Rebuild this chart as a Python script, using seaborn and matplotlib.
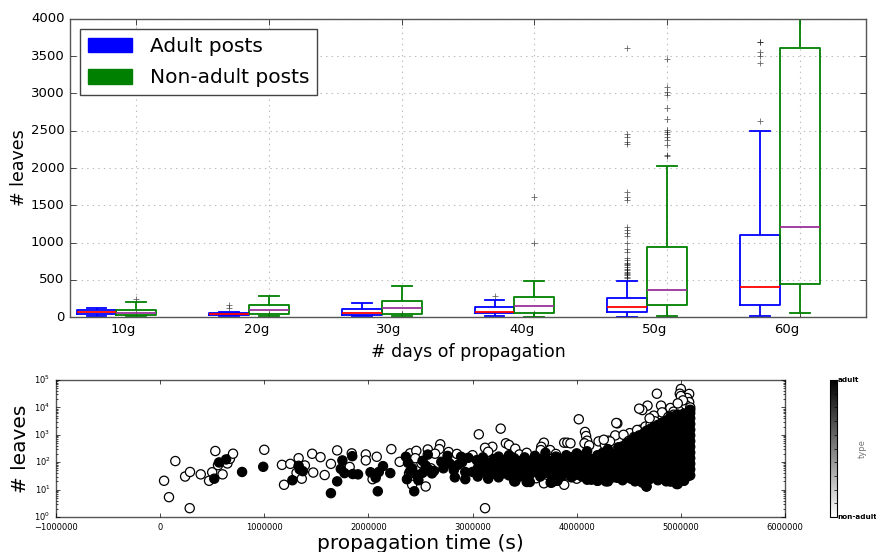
import numpy as np
import pandas as pd
import matplotlib
matplotlib.use("Agg")
import matplotlib.pyplot as plt
import seaborn as sns
from matplotlib.patches import Patch
from matplotlib.ticker import MultipleLocator, FixedLocator
from matplotlib.cm import ScalarMappable
from matplotlib.colors import Normalize

# ---------------- top panel: box plots ----------------
categories = ["10g", "20g", "30g", "40g", "50g", "60g"]
# five-number summaries: whisker low, Q1, median, Q3, whisker high
adult_box = [
    [20, 35, 65, 95, 120],
    [9, 25, 44, 60, 72],
    [9, 28, 54, 105, 188],
    [13, 50, 72, 130, 228],
    [5, 67, 138, 251, 487],
    [13, 161, 407, 1105, 2496],
]
nonadult_box = [
    [9, 31, 54, 89, 196],
    [17, 44, 89, 161, 282],
    [17, 44, 121, 210, 420],
    [0, 58, 148, 264, 487],
    [13, 161, 362, 944, 2026],
    [58, 443, 1212, 3606, 4600],
]
adult_outliers = [
    [],
    [121, 165],
    [],
    [282],
    [520, 541, 560, 573, 590, 608, 625, 644, 670, 697, 715, 730, 765, 790,
     877, 908, 997, 1087, 1127, 1162, 1207, 1565, 1610, 1677, 2326, 2348,
     2420, 2455, 3605],
    [2635, 3405, 3503, 3557, 3686, 3695],
]
nonadult_outliers = [
    [246],
    [],
    [],
    [989, 1615],
    [2155, 2174, 2308, 2370, 2415, 2460, 2483, 2505, 2653, 2800, 2979,
     3024, 3082, 3462],
    [],
]

# ---------------- bottom panel: scatter ----------------
nonadult_points = [
    (0.038e6, 21), (0.085e6, 5.3), (0.146e6, 110), (0.24e6, 30), (0.287e6, 44),
    (0.284e6, 2.1), (0.39e6, 36), (0.5e6, 43), (0.47e6, 21), (0.53e6, 256),
    (0.6e6, 36), (0.556e6, 78), (0.646e6, 90), (0.67e6, 133), (0.70e6, 204),
    (1.0e6, 284), (1.17e6, 80), (1.25e6, 87), (1.33e6, 140), (1.39e6, 76),
    (1.31e6, 41), (1.36e6, 25), (1.19e6, 15), (1.46e6, 203), (1.47e6, 42),
    (1.54e6, 153), (1.58e6, 34), (1.64e6, 87), (1.70e6, 270), (1.82e6, 67),
    (1.84e6, 210), (1.975e6, 192), (1.975e6, 116), (2.08e6, 158), (2.04e6, 24),
    (2.22e6, 300), (2.30e6, 103), (2.40e6, 210), (2.46e6, 260), (2.57e6, 292),
    (2.69e6, 450), (2.68e6, 300), (2.64e6, 204), (2.77e6, 235), (2.51e6, 90),
    (2.42e6, 15), (2.55e6, 13), (2.39e6, 39), (2.45e6, 140), (2.60e6, 60),
    (3.06e6, 1040), (3.27e6, 1680), (3.12e6, 2.1), (3.32e6, 490), (3.35e6, 425),
    (3.41e6, 310), (3.19e6, 365), (3.12e6, 335), (3.45e6, 192), (3.685e6, 515),
    (3.66e6, 365), (3.655e6, 277), (3.88e6, 515), (3.91e6, 515), (3.94e6, 490),
    (4.02e6, 3690), (4.08e6, 1270), (4.09e6, 900), (4.10e6, 610), (4.075e6, 490),
    (4.12e6, 410), (4.21e6, 575), (4.27e6, 425), (4.305e6, 610), (4.37e6, 950),
    (4.39e6, 2620), (3.61e6, 26), (3.685e6, 17), (3.88e6, 15), (4.0e6, 25),
    (3.745e6, 277), (2.85e6, 200), (3.0e6, 180), (3.15e6, 240), (3.52e6, 220),
    (3.8e6, 200), (3.2e6, 50), (3.3e6, 40), (3.9e6, 35),
    (4.77e6, 31600), (5.0e6, 47000), (4.99e6, 31600), (5.08e6, 31000),
    (5.06e6, 22000), (5.0e6, 26000), (5.08e6, 15600), (4.68e6, 11600),
    (4.63e6, 8000), (4.60e6, 9000), (4.81e6, 11600), (4.82e6, 6600),
    (4.74e6, 5000), (4.90e6, 9500), (4.93e6, 7000), (5.0e6, 8000),
    (4.38e6, 2700), (4.51e6, 1150), (4.55e6, 830), (4.32e6, 575), (4.26e6, 660),
    (4.61e6, 1530), (4.66e6, 2000), (4.71e6, 2350), (4.75e6, 3100),
    (4.87e6, 3600), (4.93e6, 5400), (5.05e6, 12000), (5.02e6, 18000),
    (4.97e6, 14000), (4.88e6, 4500), (4.45e6, 1000), (4.50e6, 600),
    (4.58e6, 1500), (4.70e6, 4000), (5.09e6, 10000),
]
adult_points = [
    (0.52e6, 25), (0.566e6, 98), (0.633e6, 126), (0.787e6, 44), (0.99e6, 68),
    (1.33e6, 74), (1.34e6, 55), (1.37e6, 47), (1.27e6, 22),
    (1.64e6, 7.4), (1.70e6, 20), (1.735e6, 57), (1.75e6, 116), (1.77e6, 40),
    (1.845e6, 166), (1.85e6, 37), (1.90e6, 36), (2.02e6, 43), (2.09e6, 8.7),
    (2.07e6, 27), (2.10e6, 44), (2.14e6, 72), (2.21e6, 40), (2.36e6, 158),
    (2.38e6, 95), (2.40e6, 46), (2.37e6, 24), (2.44e6, 8.7), (2.48e6, 22),
    (2.52e6, 112), (2.57e6, 190), (2.52e6, 41), (2.58e6, 54), (2.61e6, 39),
    (2.70e6, 103), (2.76e6, 170), (2.78e6, 90), (2.82e6, 51), (2.83e6, 28),
    (2.89e6, 158), (2.93e6, 44), (2.93e6, 24), (2.96e6, 145), (3.0e6, 44),
    (3.04e6, 119), (2.42e6, 60), (2.46e6, 35), (2.55e6, 75), (2.63e6, 48),
    (2.72e6, 60), (2.86e6, 80), (2.90e6, 100),
    (3.41e6, 20), (3.52e6, 19), (3.76e6, 18), (3.815e6, 21), (4.14e6, 23),
    (4.20e6, 21), (4.28e6, 20), (4.39e6, 27),
    (4.29e6, 21.5), (4.67e6, 13), (4.63e6, 18), (4.90e6, 20), (4.96e6, 16),
    (5.03e6, 21.5), (5.08e6, 33), (5.09e6, 8200),
]
# dense adult band: propagation time -> leaves observed at that time
adult_band = {
    3.05e6: [30, 60, 110], 3.10e6: [45, 80, 150], 3.15e6: [25, 55, 95],
    3.20e6: [38, 70, 130], 3.25e6: [28, 50, 100, 160], 3.30e6: [40, 75, 120],
    3.35e6: [33, 60, 90, 180], 3.40e6: [20, 45, 85, 140], 3.45e6: [30, 65, 110],
    3.50e6: [40, 80, 150], 3.55e6: [19, 35, 60, 100], 3.60e6: [45, 90, 170],
    3.65e6: [30, 55, 120], 3.70e6: [40, 75, 140, 220], 3.75e6: [18, 35, 65, 110],
    3.80e6: [21, 50, 90, 160], 3.85e6: [30, 70, 130], 3.90e6: [40, 85, 180],
    3.95e6: [28, 55, 100, 150], 4.00e6: [35, 70, 120, 210],
    4.05e6: [30, 60, 110, 170], 4.10e6: [23, 45, 90, 150, 250],
    4.15e6: [35, 70, 130], 4.20e6: [21, 50, 95, 180], 4.25e6: [30, 65, 120, 220],
    4.30e6: [20, 40, 80, 150, 300], 4.35e6: [28, 60, 110, 200],
    4.40e6: [27, 45, 90, 170, 350],
    4.44e6: [22, 35, 55, 90, 140, 230, 380],
    4.48e6: [30, 48, 75, 120, 190, 300, 500],
    4.52e6: [25, 40, 65, 105, 170, 270, 450, 620],
    4.56e6: [20, 33, 52, 85, 135, 210, 340, 560, 800],
    4.60e6: [28, 45, 70, 115, 180, 290, 460, 700, 950],
    4.64e6: [18, 26, 42, 68, 110, 175, 280, 440, 720, 1100],
    4.67e6: [13, 35, 58, 95, 150, 240, 390, 630, 1000, 1400],
    4.70e6: [24, 38, 62, 100, 160, 255, 410, 660, 1050, 1600],
    4.74e6: [30, 50, 80, 130, 210, 330, 540, 860, 1350, 1900],
    4.78e6: [22, 36, 60, 95, 155, 250, 400, 650, 1050, 1700, 2300],
    4.82e6: [28, 45, 72, 115, 185, 300, 480, 780, 1250, 2000, 2800],
    4.86e6: [20, 34, 55, 90, 145, 230, 370, 600, 970, 1550, 2500, 3300],
    4.90e6: [20, 30, 48, 78, 125, 200, 320, 520, 840, 1350, 2200, 3500, 4600],
    4.94e6: [25, 40, 65, 105, 170, 275, 445, 720, 1150, 1850, 3000, 4800],
    4.97e6: [16, 32, 52, 85, 135, 220, 355, 575, 930, 1500, 2400, 3900, 5500],
    5.00e6: [28, 45, 72, 115, 190, 305, 490, 790, 1270, 2050, 3300, 5200],
    5.03e6: [21, 36, 58, 95, 150, 245, 395, 640, 1030, 1650, 2700, 4300, 6000],
    5.06e6: [30, 48, 78, 125, 200, 325, 525, 850, 1370, 2200, 3600, 5600],
    5.09e6: [33, 55, 88, 140, 225, 365, 590, 950, 1530, 2480, 4000, 6200],
}

# ---------------- style ----------------
plt.style.use("classic")
plt.rcParams.update({
    "figure.facecolor": "white",
    "savefig.facecolor": "white",
    "font.family": ["DejaVu Sans"],
    "mathtext.fontset": "dejavusans",
    "axes.edgecolor": "#555555",
    "axes.linewidth": 1.0,
})

fig = plt.figure(figsize=(8.76, 5.52), dpi=100)

# ================= top panel =================
ax1 = fig.add_axes([0.0799, 0.4257, 0.9087, 0.5399])
offset = 0.3  # adult boxes sit left of the non-adult boxes

rows_a, rows_n, fl = [], [], []
for i, cat in enumerate(categories):
    for v in adult_box[i]:
        rows_a.append({"pos": i - offset, "leaves": v})
    for v in nonadult_box[i]:
        rows_n.append({"pos": float(i), "leaves": v})
    for v in adult_outliers[i]:
        fl.append({"pos": i - offset, "leaves": v})
    for v in nonadult_outliers[i]:
        fl.append({"pos": float(i), "leaves": v})
df_a, df_n, df_fl = pd.DataFrame(rows_a), pd.DataFrame(rows_n), pd.DataFrame(fl)

solid = {"linestyle": "-"}
sns.boxplot(data=df_a, x="pos", y="leaves", native_scale=True, width=0.3,
            fill=False, color="blue", whis=(0, 100), linewidth=1.3,
            medianprops={"color": "red"}, whiskerprops=solid, capprops=solid,
            ax=ax1)
sns.boxplot(data=df_n, x="pos", y="leaves", native_scale=True, width=0.3,
            fill=False, color="green", whis=(0, 100), linewidth=1.3,
            medianprops={"color": "#993399"}, whiskerprops=solid,
            capprops=solid, ax=ax1)
sns.scatterplot(data=df_fl, x="pos", y="leaves", marker="+", color="black",
                s=13, linewidth=0.6, alpha=0.6, legend=False, ax=ax1)

ax1.set_xlim(-0.5, 5.5)
ax1.set_ylim(0, 4000)
ax1.xaxis.set_major_locator(FixedLocator(range(len(categories))))
ax1.set_xticklabels(categories, ha="right")
ax1.yaxis.set_major_locator(MultipleLocator(500))
ax1.tick_params(labelsize=9.5)
ax1.grid(True, color="#bbbbbb", linestyle=":", linewidth=0.8)
ax1.set_axisbelow(True)
ax1.set_xlabel("# days of propagation", fontsize=12.5)
ax1.set_ylabel("# leaves", fontsize=12.5, labelpad=2)
handles = [Patch(facecolor="blue", edgecolor="blue", label="Adult posts"),
           Patch(facecolor="green", edgecolor="green", label="Non-adult posts")]
leg = ax1.legend(handles=handles, loc="upper left", fontsize=14.5, fancybox=False,
                 framealpha=1, borderaxespad=0.5, handlelength=2.2,
                 handleheight=0.75, handletextpad=0.85, labelspacing=0.6)
leg.get_frame().set_edgecolor("#444444")

# ================= bottom panel =================
ax2 = fig.add_axes([0.0639, 0.0634, 0.8322, 0.2482])
pts = [{"time": t, "leaves": v, "type": "non-adult"} for t, v in nonadult_points]
pts += [{"time": t, "leaves": v, "type": "adult"} for t, v in adult_points]
for t, vals in adult_band.items():
    pts += [{"time": t, "leaves": v, "type": "adult"} for v in vals]
df_s = pd.DataFrame(pts)
sns.scatterplot(data=df_s, x="time", y="leaves", hue="type",
                palette={"non-adult": "white", "adult": "black"},
                edgecolor="black", linewidth=0.9, s=44, legend=False, ax=ax2)
ax2.set_yscale("log")
ax2.set_ylim(1, 1e5)
ax2.set_xlim(-1e6, 6e6)
ax2.xaxis.set_major_locator(MultipleLocator(1e6))
ax2.ticklabel_format(style="plain", axis="x", useOffset=False)
ax2.tick_params(labelsize=6)
ax2.tick_params(which="major", length=3)
ax2.tick_params(which="minor", length=1.5)
ax2.set_xlabel("propagation time (s)", fontsize=14.5, labelpad=2)
ax2.set_ylabel("# leaves", fontsize=14.5, labelpad=3)

cax = fig.add_axes([0.9475, 0.0634, 0.008, 0.2482])
sm = ScalarMappable(norm=Normalize(0, 1), cmap="gray_r")
cb = fig.colorbar(sm, cax=cax)
cb.set_ticks([0, 1])
cb.set_ticklabels(["non-adult", "adult"])
for lab in cax.get_yticklabels():
    lab.set_fontsize(5.2)
    lab.set_fontweight("bold")
cax.yaxis.set_minor_locator(MultipleLocator(0.1))
cax.tick_params(which="both", direction="in", length=2, pad=0.5, width=0.5)
cb.outline.set_edgecolor("black")
cb.outline.set_linewidth(0.8)
cb.set_label("type", fontsize=6, color="#777777")
cax.yaxis.set_label_coords(3.9, 0.5)

fig.savefig("out.png", dpi=100)
